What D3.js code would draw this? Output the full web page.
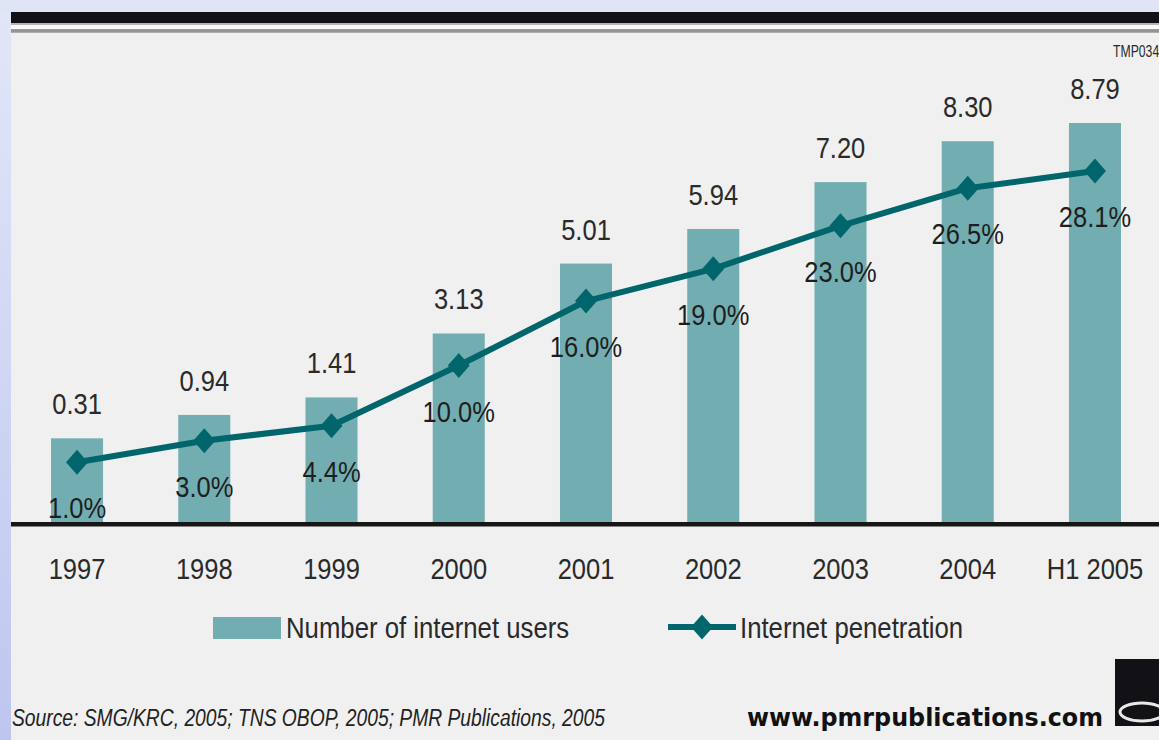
<!DOCTYPE html>
<html>
<head>
<meta charset="utf-8">
<script src="https://cdn.jsdelivr.net/npm/d3@7"></script>
<style>
  body { margin: 0; background: #e0e5f6; }
  svg { display: block; }
  text { font-family: "Liberation Sans", Arial, sans-serif; }
</style>
</head>
<body>
<div id="chart"></div>
<script>
var w = 1159,
    h = 740;

// data
var categories = ["1997", "1998", "1999", "2000", "2001", "2002", "2003", "2004", "H1 2005"];
var users = [0.31, 0.94, 1.41, 3.13, 5.01, 5.94, 7.20, 8.30, 8.79];
var penetration = [1.0, 3.0, 4.4, 10.0, 16.0, 19.0, 23.0, 26.5, 28.1];
var legendLabels = ["Number of internet users", "Internet penetration"];
var sourceText = "Source: SMG/KRC, 2005; TNS OBOP, 2005; PMR Publications, 2005";
var urlText = "www.pmrpublications.com";

var barColor = "#72aeb1",
    lineColor = "#00666c";

var svg = d3.select("#chart").append("svg")
    .attr("width", w)
    .attr("height", h);

var defs = svg.append("defs");
var bg = defs.append("linearGradient").attr("id", "bg")
    .attr("x1", 0).attr("y1", 0).attr("x2", 0).attr("y2", 1);
bg.append("stop").attr("offset", "0%").attr("stop-color", "#e2e7f7");
bg.append("stop").attr("offset", "100%").attr("stop-color", "#bec6f0");

var rule = defs.append("linearGradient").attr("id", "rule")
    .attr("x1", 0).attr("y1", 0).attr("x2", 0).attr("y2", 1);
rule.append("stop").attr("offset", "0%").attr("stop-color", "#a4a4a4");
rule.append("stop").attr("offset", "50%").attr("stop-color", "#8a8a8a");
rule.append("stop").attr("offset", "100%").attr("stop-color", "#b8b8b8");

// page background + panel
svg.append("rect").attr("width", w).attr("height", h).attr("fill", "url(#bg)");
svg.append("rect").attr("x", 0).attr("y", 0).attr("width", w).attr("height", 12).attr("fill", "#e0e5f6");
svg.append("rect").attr("x", 11).attr("y", 12).attr("width", w - 11).attr("height", h - 12).attr("fill", "#f0f0f0");
svg.append("rect").attr("x", 11).attr("y", 12).attr("width", w - 11).attr("height", 11).attr("fill", "#121216");
svg.append("rect").attr("x", 11).attr("y", 23).attr("width", w - 11).attr("height", 2).attr("fill", "#b4b4b4");
svg.append("rect").attr("x", 11).attr("y", 25).attr("width", w - 11).attr("height", 4).attr("fill", "#f8f8f8");
svg.append("rect").attr("x", 11).attr("y", 29).attr("width", w - 11).attr("height", 4).attr("fill", "url(#rule)");

// scales
var x = d3.scaleBand()
    .domain(categories)
    .range([13.4, 1158.6])
    .paddingInner(0.591)
    .paddingOuter(0.2955);

var yBar = d3.scaleLinear()
    .domain([-1.94, 8.79])
    .range([522, 123]);

var yLine = d3.scaleLinear()
    .domain([0, 28.1])
    .range([473, 171]);

var fmtUsers = d3.format(".2f"),
    fmtPct = d3.format(".1f");

// narrow looking text: plain font squeezed horizontally
function label(g, tx, ty, str, size, anchor, squeeze) {
    return g.append("text")
        .attr("transform", "translate(" + tx + "," + ty + ") scale(" + (squeeze || 0.88) + ",1)")
        .attr("text-anchor", anchor || "middle")
        .style("font-size", size + "px")
        .attr("fill", "#2a2a2a")
        .text(str);
}

var rows = categories.map(function (c, i) {
    return {cat: c, users: users[i], pen: penetration[i]};
});

// bars
svg.append("g").selectAll("rect")
    .data(rows)
    .enter()
    .append("rect")
    .attr("x", function (d) { return x(d.cat); })
    .attr("width", x.bandwidth())
    .attr("y", function (d) { return yBar(d.users); })
    .attr("height", function (d) { return yBar.range()[0] - yBar(d.users); })
    .attr("fill", barColor);

// baseline
svg.append("rect")
    .attr("x", 11).attr("y", 522)
    .attr("width", w - 11).attr("height", 4.5)
    .attr("fill", "#161616");

// value labels over the bars
var labels = svg.append("g");
rows.forEach(function (d) {
    label(labels, x(d.cat) + x.bandwidth() / 2, yBar(d.users) - 24, fmtUsers(d.users), 29);
});

// penetration line
var line = d3.line()
    .x(function (d) { return x(d.cat) + x.bandwidth() / 2; })
    .y(function (d) { return yLine(d.pen); });

svg.append("path")
    .datum(rows)
    .attr("d", line)
    .attr("fill", "none")
    .attr("stroke", lineColor)
    .attr("stroke-width", 6)
    .attr("stroke-linejoin", "round");

var diamond = "M0,-12.5L11,0L0,12.5L-11,0Z";

svg.append("g").selectAll("path")
    .data(rows)
    .enter()
    .append("path")
    .attr("d", diamond)
    .attr("transform", function (d) {
        return "translate(" + (x(d.cat) + x.bandwidth() / 2) + "," + yLine(d.pen) + ")";
    })
    .attr("fill", lineColor);

rows.forEach(function (d) {
    label(labels, x(d.cat) + x.bandwidth() / 2, yLine(d.pen) + 56, fmtPct(d.pen) + "%", 30, "middle", 0.85)
        .attr("fill", "#1e1e1e");
});

// category labels
rows.forEach(function (d) {
    label(labels, x(d.cat) + x.bandwidth() / 2, 579, d.cat, 29);
});

// legend
var legend = svg.append("g");
legend.append("rect")
    .attr("x", 213).attr("y", 617)
    .attr("width", 68).attr("height", 22)
    .attr("fill", barColor);
label(legend, 286, 638, legendLabels[0], 30, "start", 0.858);

legend.append("line")
    .attr("x1", 668).attr("x2", 736)
    .attr("y1", 627).attr("y2", 627)
    .attr("stroke", lineColor)
    .attr("stroke-width", 6);
legend.append("path")
    .attr("d", diamond)
    .attr("transform", "translate(702,627)")
    .attr("fill", lineColor);
label(legend, 740, 638, legendLabels[1], 30, "start", 0.858);

// corner code
label(svg, 1113, 57, "TMP034", 17, "start", 0.72);

// footer
svg.append("text")
    .attr("x", 12).attr("y", 726)
    .attr("textLength", 593)
    .attr("lengthAdjust", "spacingAndGlyphs")
    .style("font-size", "23px")
    .style("font-style", "italic")
    .attr("fill", "#222")
    .text(sourceText);

svg.append("text")
    .attr("x", 747).attr("y", 726)
    .attr("textLength", 356)
    .attr("lengthAdjust", "spacingAndGlyphs")
    .style("font-family", "'DejaVu Sans', sans-serif")
    .style("font-size", "24px")
    .style("font-weight", "bold")
    .attr("fill", "#111")
    .text(urlText);

// logo block
svg.append("rect")
    .attr("x", 1115).attr("y", 659)
    .attr("width", 44).attr("height", 67)
    .attr("fill", "#121216");
svg.append("ellipse")
    .attr("cx", 1142).attr("cy", 712)
    .attr("rx", 22).attr("ry", 9)
    .attr("fill", "none")
    .attr("stroke", "#e8e8e8")
    .attr("stroke-width", 3);
</script>
</body>
</html>
